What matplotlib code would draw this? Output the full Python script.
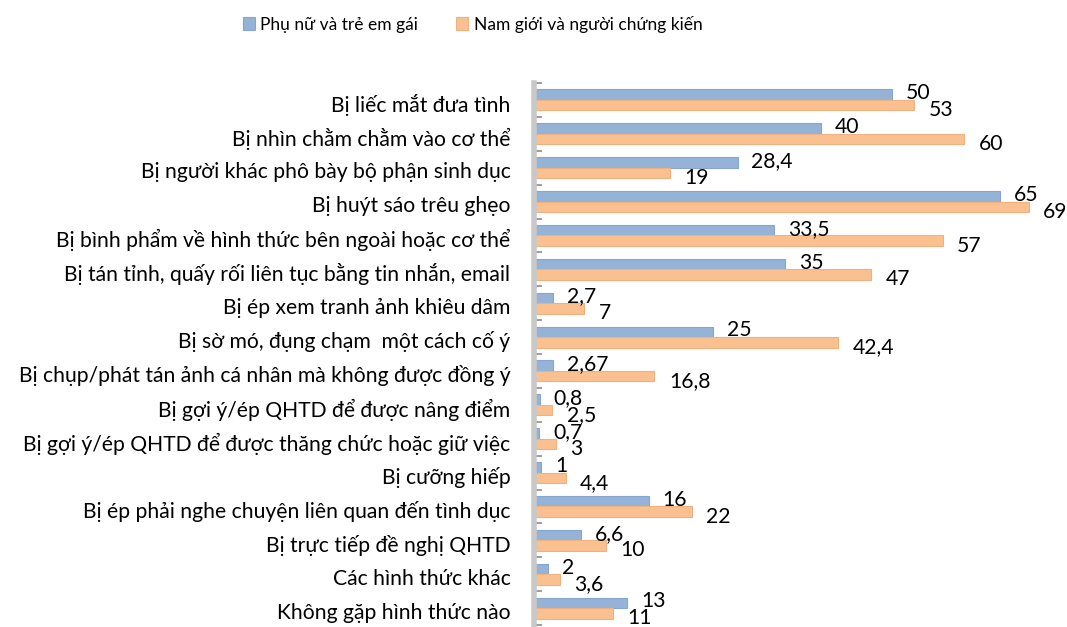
import matplotlib.pyplot as plt
import matplotlib.transforms as mtransforms
import numpy as np

plt.rcParams['font.family'] = ['Lato', 'DejaVu Sans']

categories = [
    "Bị liếc mắt đưa tình",
    "Bị nhìn chằm chằm vào cơ thể",
    "Bị người khác phô bày bộ phận sinh dục",
    "Bị huýt sáo trêu ghẹo",
    "Bị bình phẩm về hình thức bên ngoài hoặc cơ thể",
    "Bị tán tỉnh, quấy rối liên tục bằng tin nhắn, email",
    "Bị ép xem tranh ảnh khiêu dâm",
    "Bị sờ mó, đụng chạm  một cách cố ý",
    "Bị chụp/phát tán ảnh cá nhân mà không được đồng ý",
    "Bị gợi ý/ép QHTD để được nâng điểm",
    "Bị gợi ý/ép QHTD để được thăng chức hoặc giữ việc",
    "Bị cưỡng hiếp",
    "Bị ép phải nghe chuyện liên quan đến tình dục",
    "Bị trực tiếp đề nghị QHTD",
    "Các hình thức khác",
    "Không gặp hình thức nào",
]
women = [50, 40, 28.4, 65, 33.5, 35, 2.7, 25, 2.67, 0.8, 0.7, 1, 16, 6.6, 2, 13]
men = [53, 60, 19, 69, 57, 47, 7, 42.4, 16.8, 2.5, 3, 4.4, 22, 10, 3.6, 11]
women_labels = ["50", "40", "28,4", "65", "33,5", "35", "2,7", "25", "2,67",
                "0,8", "0,7", "1", "16", "6,6", "2", "13"]
men_labels = ["53", "60", "19", "69", "57", "47", "7", "42,4", "16,8",
              "2,5", "3", "4,4", "22", "10", "3,6", "11"]

blue = "#95B3D7"
orange = "#FAC08F"
fs = 15.2

fig = plt.figure(figsize=(10.67, 6.27), dpi=100)
ax = fig.add_axes([534 / 1067, 1 - 625 / 627, 516 / 1067, 542 / 627])

y = np.arange(len(categories))
h = 0.31
bw = ax.barh(y - 0.155, women, height=h, color=blue, edgecolor="#85A6CF",
             linewidth=0.8, label="Phụ nữ và trẻ em gái")
bm = ax.barh(y + 0.155, men, height=h, color=orange, edgecolor="#EDB27F",
             linewidth=0.8, label="Nam giới và người chứng kiến")

for yi, v, s in zip(y, women, women_labels):
    ax.annotate(s, (v, yi - 0.155), xytext=(10, 1), textcoords="offset points",
                ha="left", va="center", fontsize=fs, color="black")
for yi, v, s in zip(y, men, men_labels):
    ax.annotate(s, (v, yi + 0.155), xytext=(10.5, -3.5), textcoords="offset points",
                ha="left", va="center", fontsize=fs, color="black")

ax.set_xlim(0, 72)
ax.set_ylim(len(categories) - 0.5, -0.5)

ax.set_yticks(y)
ax.set_yticklabels(categories, fontsize=fs)
ax.tick_params(axis="y", length=0, pad=17)
shift = mtransforms.ScaledTranslation(0, -2 / 72, fig.dpi_scale_trans)
for lab in ax.get_yticklabels():
    lab.set_transform(lab.get_transform() + shift)
ax.set_yticks(np.arange(len(categories) + 1) - 0.5, minor=True)
ax.tick_params(axis="y", which="minor", direction="in", length=6, width=1.2,
               color="#8C8C8C")
ax.set_xticks([])

for side in ["top", "right", "bottom"]:
    ax.spines[side].set_visible(False)
ax.spines["left"].set_color("#C8C8C8")
ax.spines["left"].set_linewidth(4)

fig.legend(handles=[bw, bm], loc="upper center", bbox_to_anchor=(0.443, 1.0),
           ncol=2, frameon=False, fontsize=12.5, handlelength=0.7,
           handleheight=0.7, handletextpad=0.3, columnspacing=2.2)

fig.savefig("out.png", dpi=100)
